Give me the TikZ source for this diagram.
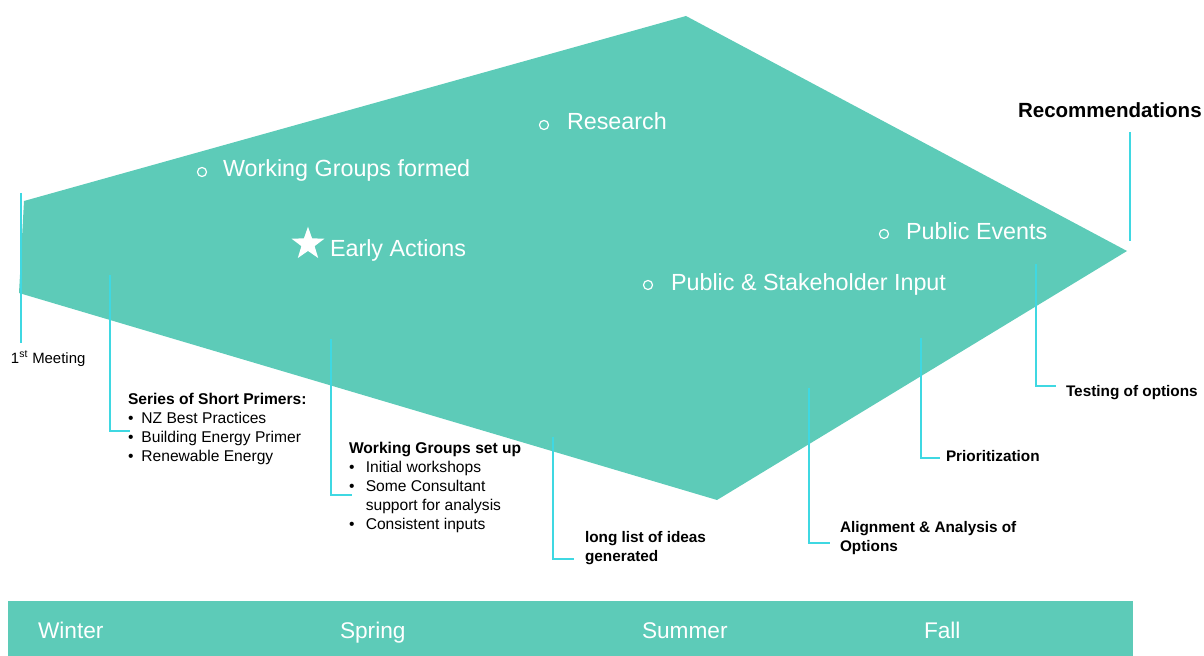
\documentclass[tikz,border=0pt]{standalone}
\usepackage{fontspec}
\setmainfont{Liberation Sans}
\usetikzlibrary{shapes.geometric}
\definecolor{teal}{HTML}{5DCBB8}
\definecolor{leader}{HTML}{3FD8E2}
\begin{document}
\begin{tikzpicture}[x=0.75pt,y=-0.75pt,
  inner sep=0pt, outer sep=0pt,
  phase/.style={anchor=base west, text=white, font=\fontsize{17.5}{20}\selectfont},
  season/.style={anchor=base west, text=white, font=\fontsize{17}{20}\selectfont},
  hollow/.style={circle, draw=white, line width=0.9pt, minimum size=6.8pt},
  label/.style={anchor=base west, align=left, text=black, font=\fontsize{11.5}{14.25}\selectfont\bfseries},
  listlabel/.style={anchor=base west, text=black, font=\fontsize{11.7}{14.25}\selectfont},
  leaderline/.style={draw=leader, line width=1.1pt}]
\useasboundingbox (0,0) rectangle (1204,656);

% funnel of the process
\fill[teal] (24,201) -- (686,16) -- (1127,251) -- (717,500) -- (19,293) -- cycle;

% season bar
\fill[teal] (8,601) rectangle (1133,656);
\node[season] (winter) at (38,638) {Winter};
\node[season] (spring) at (340,638) {Spring};
\node[season] (summer) at (642,638) {Summer};
\node[season] (fall) at (924,638) {Fall};

% phases inside the funnel
\node[hollow] (b1) at (202,172) {};
\node[phase] (wgf) at (223,177) {Working Groups formed};
\node[hollow] (b2) at (544,125) {};
\node[phase] (res) at (567,130) {Research};
\node[star, star points=5, star point ratio=2.5, fill=white, minimum size=26pt] (star) at (308,244) {};
\node[phase] (early) at (330,257) {Early Actions};
\node[hollow] (b3) at (884,234) {};
\node[phase] (pev) at (906,240) {Public Events};
\node[hollow] (b4) at (648,285) {};
\node[phase] (psi) at (671,291) {Public \& Stakeholder Input};

% milestones
\node[listlabel, font=\fontsize{11.2}{13}\selectfont] (meet) at (11,363) {1\textsuperscript{st} Meeting};
\coordinate (meetTop) at (21,193);
\draw[leaderline] (meetTop) -- (21,343);

\node[label, font=\fontsize{15.4}{17}\selectfont\bfseries] (rec) at (1018,118) {Recommendations};
\coordinate (recTop) at (1130,132);
\coordinate (recBot) at (1130,241);
\draw[leaderline] (recTop) -- (recBot);

\node[listlabel] (primers) at (128,404) {\begin{tabular}[t]{@{}l@{\hspace{6pt}}l@{}}
\multicolumn{2}{@{}l@{}}{\bfseries Series of Short Primers:}\\
\textbullet & NZ Best Practices\\
\textbullet & Building Energy Primer\\
\textbullet & Renewable Energy
\end{tabular}};
\coordinate (primTop) at (110,275);
\coordinate (primEnd) at (130,431);
\draw[leaderline] (primTop) |- (primEnd);

\node[listlabel] (wgsu) at (349,453) {\begin{tabular}[t]{@{}l@{\hspace{8.5pt}}l@{}}
\multicolumn{2}{@{}l@{}}{\bfseries Working Groups set up}\\
\textbullet & Initial workshops\\
\textbullet & Some Consultant\\
 & support for analysis\\
\textbullet & Consistent inputs
\end{tabular}};
\coordinate (wgTop) at (331,339);
\coordinate (wgEnd) at (352,495);
\draw[leaderline] (wgTop) |- (wgEnd);

\node[label] (ideas) at (585,561) {long list of ideas\\generated};
\coordinate (ideasTop) at (553,437);
\coordinate (ideasEnd) at (574,559);
\draw[leaderline] (ideasTop) |- (ideasEnd);

\node[label] (align) at (840,551) {Alignment \& Analysis of\\Options};
\coordinate (alignTop) at (809,388);
\coordinate (alignEnd) at (830,543);
\draw[leaderline] (alignTop) |- (alignEnd);

\node[label] (prio) at (946,461) {Prioritization};
\coordinate (prioTop) at (921,338);
\coordinate (prioEnd) at (940,458);
\draw[leaderline] (prioTop) |- (prioEnd);

\node[label] (test) at (1066,396) {Testing of options};
\coordinate (testTop) at (1036,264);
\coordinate (testEnd) at (1056,386);
\draw[leaderline] (testTop) |- (testEnd);
\end{tikzpicture}
\end{document}
